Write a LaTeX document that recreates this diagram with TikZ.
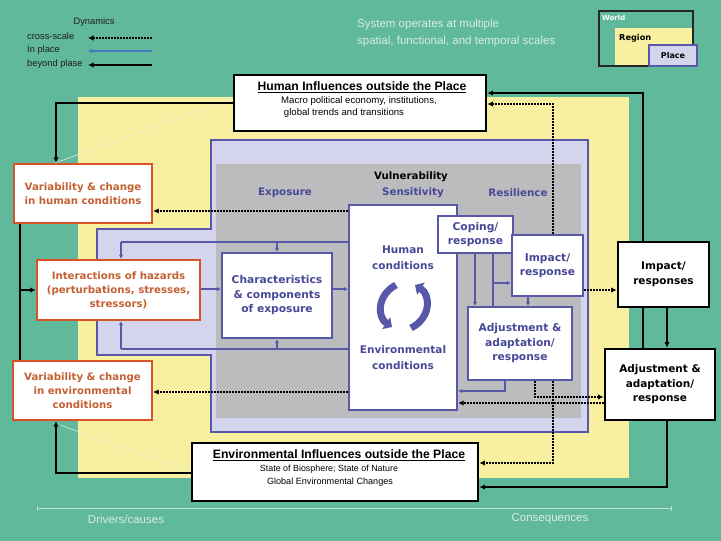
\documentclass[tikz,border=0pt]{standalone}
\usepackage{fontspec}
\setmainfont{DejaVu Sans}
\newfontfamily\lib{Liberation Sans}
\usetikzlibrary{arrows.meta}
\definecolor{teal1}{RGB}{97,185,155}
\definecolor{yel}{RGB}{248,240,160}
\definecolor{lav}{RGB}{212,212,236}
\definecolor{gry}{RGB}{188,188,190}
\definecolor{bluel}{RGB}{88,88,168}
\definecolor{bluet}{RGB}{72,72,152}
\definecolor{orng}{RGB}{214,84,40}
\definecolor{orngt}{RGB}{196,96,50}
\definecolor{pale}{RGB}{214,238,226}
\definecolor{dk}{RGB}{30,30,30}
\begin{document}
\begin{tikzpicture}[x=1pt,y=-1pt,
  box/.style={draw, line width=2.4pt, fill=white, inner sep=0pt, align=center},
  obox/.style={box, draw=orng, text=orngt, font=\bfseries\fontsize{10.2}{13.8}\selectfont},
  bbox/.style={box, draw=bluel, text=bluet, font=\bfseries\fontsize{10.7}{14.5}\selectfont},
  kbox/.style={box, draw=black, line width=2.8pt, text=black, font=\bfseries\fontsize{10.5}{14.5}\selectfont},
  btxt/.style={inner sep=0pt, align=center, text=bluet, font=\bfseries\fontsize{10.5}{16}\selectfont},
  htxt/.style={inner sep=0pt, text=bluet, font=\bfseries\fontsize{10.3}{12}\selectfont},
  lg/.style={inner sep=0pt, text=dk, font=\lib\fontsize{9.3}{10}\selectfont},
  ttl/.style={inner sep=0pt, font=\lib\bfseries\fontsize{12.2}{14}\selectfont},
  sub/.style={inner sep=0pt, font=\lib\fontsize{9.6}{11}\selectfont},
  pl/.style={inner sep=0pt, text=pale, font=\lib\fontsize{11.5}{13}\selectfont},
  arw/.style={-{Latex[length=5.5pt,width=5.5pt]}},
  sarw/.style={-{Latex[length=4pt,width=4.5pt]}},
  blk/.style={line width=2.2pt, draw=black},
  dots/.style={line width=2.6pt, draw=black, dash pattern=on 2pt off 1pt},
  bl/.style={line width=2.4pt, draw=bluel},
  cyc/.style={line width=7pt, draw=bluel, -{Triangle[length=7pt,width=14pt]}}
]
\useasboundingbox (0,0) rectangle (721,541);
% backgrounds
\fill[teal1] (0,0) rectangle (721,541);
\fill[yel] (78,97) rectangle (629,478);
\filldraw[fill=lav, draw=bluel, line width=2.2pt] (211,140) -- (588,140) -- (588,432) -- (211,432) -- (211,355) -- (97,355) -- (97,229) -- (211,229) -- cycle;
\fill[gry] (216,164) rectangle (581,418);
\draw[pale!70!yel, line width=0.6pt] (55,163) -- (234,98);
\draw[pale!70!yel, line width=0.6pt] (60,425) -- (192,472);

% legend
\node[lg] (dyn) at (94,22) {Dynamics};
\node[lg, anchor=west] (lgc) at (27,36) {cross-scale};
\node[lg, anchor=west] (lgi) at (27,50) {In place};
\node[lg, anchor=west] (lgb) at (27,64) {beyond plase};
\coordinate (l1s) at (152,38); \coordinate (l1e) at (88,38);
\coordinate (l2s) at (152,51); \coordinate (l2e) at (88,51);
\coordinate (l3s) at (152,65); \coordinate (l3e) at (88,65);
\draw[dots, arw] (l1s) -- (l1e);
\draw[line width=2pt, draw=bluel!80!cyan, sarw] (l2s) -- (l2e);
\draw[blk, arw] (l3s) -- (l3e);

\node[pl, anchor=west] (sys1) at (357,25) {System operates at multiple};
\node[pl, anchor=west] (sys2) at (357,42) {spatial, functional, and temporal scales};

% world/region/place legend
\fill[teal1] (599,11) rectangle (693,66);
\fill[yel] (615,28) rectangle (693,66);
\draw[line width=1.5pt, draw=black!85] (599,11) rectangle (693,66);
\node[draw=bluel, line width=1.5pt, fill=lav, minimum width=48pt, minimum height=21pt, inner sep=0pt, font=\bfseries\fontsize{8}{9}\selectfont] (placeb) at (673,55.5) {Place};
\node[inner sep=0pt, anchor=west, text=white, font=\bfseries\fontsize{7}{8}\selectfont] (worldt) at (602,18) {World};
\node[inner sep=0pt, anchor=west, font=\bfseries\fontsize{8.2}{9}\selectfont] (regiont) at (619,38) {Region};

% texts in vulnerability area
\node[inner sep=0pt, font=\bfseries\fontsize{10.2}{12}\selectfont] (vul) at (411,177) {Vulnerability};
\node[htxt] (expo) at (285,193) {Exposure};
\node[htxt] (sens) at (413,193) {Sensitivity};
\node[htxt] (resi) at (518,193) {Resilience};

% outer boxes
\node[kbox, minimum width=252pt, minimum height=56pt] (hum) at (360,103) {};
\node[ttl] (humt) at (362,87) {\underline{Human Influences outside the Place}};
\node[sub] (hums1) at (359,101) {Macro political economy, institutions,};
\node[sub] (hums2) at (344,113) {global trends and transitions};

\node[kbox, minimum width=286pt, minimum height=58pt] (env) at (335,472) {};
\node[ttl] (envt) at (339,455) {\underline{Environmental Influences outside the Place}};
\node[sub, font=\lib\fontsize{8.9}{10}\selectfont] (envs1) at (329,469) {State of Biosphere; State of Nature};
\node[sub, font=\lib\fontsize{9.1}{10}\selectfont] (envs2) at (330,482) {Global Environmental Changes};

\node[obox, minimum width=138pt, minimum height=59pt] (varh) at (83,193.5) {Variability \& change\\in human conditions};
\node[obox, minimum width=163pt, minimum height=60pt] (inter) at (118.5,290) {Interactions of hazards\\(perturbations, stresses,\\stressors)};
\node[obox, minimum width=139pt, minimum height=59pt] (vare) at (82.5,390.5) {Variability \& change\\in environmental\\conditions};

\node[bbox, minimum width=110pt, minimum height=85pt] (charx) at (277,295.5) {Characteristics\\\& components\\of exposure};
\node[bbox, minimum width=108pt, minimum height=205pt] (cond) at (403,307.5) {};
\node[btxt] (humc) at (403,258) {Human\\conditions};
\node[btxt] (envc) at (403,358) {Environmental\\conditions};
\node[bbox, minimum width=75pt, minimum height=37pt] (coping) at (475.5,234.5) {Coping/\\response};
\node[bbox, minimum width=71pt, minimum height=61pt] (impi) at (547.5,265.5) {Impact/\\response};
\node[bbox, minimum width=104pt, minimum height=73pt] (adji) at (520,343.5) {Adjustment \&\\adaptation/\\response};

\node[kbox, minimum width=91pt, minimum height=65pt] (impo) at (663.5,274.5) {Impact/\\responses};
\node[kbox, minimum width=110pt, minimum height=71pt] (adjo) at (660,384.5) {Adjustment \&\\adaptation/\\response};

% cycle arrows
\draw[cyc] (396,285) .. controls (377,295) and (377,317) .. (392,327);
\draw[cyc] (411,328) .. controls (431,318) and (431,295) .. (415,285);

% helper coordinates
\coordinate (x20) at (20,0);
\coordinate (x56) at (56,0);
\coordinate (x121) at (121,0);
\coordinate (x277) at (277,0);
\coordinate (x475) at (475,0);
\coordinate (x493) at (493,0);
\coordinate (x505) at (505,0);
\coordinate (x528) at (528,0);
\coordinate (x535) at (535,0);
\coordinate (x553) at (553,0);
\coordinate (x643) at (643,0);
\coordinate (x667) at (667,0);
\coordinate (y93) at (0,93);
\coordinate (y104) at (0,104);
\coordinate (y211) at (0,211);
\coordinate (y242) at (0,242);
\coordinate (y283) at (0,283);
\coordinate (y289) at (0,289);
\coordinate (y290) at (0,290);
\coordinate (y349) at (0,349);
\coordinate (y391) at (0,391);
\coordinate (y392) at (0,392);
\coordinate (y397) at (0,397);
\coordinate (y403) at (0,403);
\coordinate (y463) at (0,463);
\coordinate (y473) at (0,473);
\coordinate (y487) at (0,487);

% black (beyond place) connectors
\draw[blk, arw] (hum.west) -| (x56 |- varh.north);
\draw[blk] (x20 |- varh.south) -- (x20 |- vare.north);
\draw[blk, arw] (x20 |- inter.west) -- (inter.west);
\draw[blk, arw] (env.west |- y473) -| (x56 |- vare.south);
\draw[blk, arw] (x643 |- impo.north) |- (hum.east |- y93);
\draw[blk] (x643 |- impo.south) -- (x643 |- adjo.north);
\draw[blk, arw] (x667 |- impo.south) -- (x667 |- adjo.north);
\draw[blk, arw] (x667 |- adjo.south) |- (env.east |- y487);

% dotted (cross-scale) connectors
\draw[dots, arw] (cond.west |- y211) -- (varh.east |- y211);
\draw[dots, arw] (cond.west |- y392) -- (vare.east |- y392);
\draw[dots, arw] (adjo.west |- y403) -- (cond.east |- y403);
\draw[dots, arw] (impi.east |- y290) -- (impo.west |- y290);
\draw[dots, arw] (x535 |- adji.south) |- (adjo.west |- y397);
\draw[dots, arw] (x553 |- adji.south) |- (env.east |- y463);
\draw[dots, arw] (x553 |- impi.north) |- (hum.east |- y104);

% blue (in place) connectors
\draw[bl, sarw] (inter.east |- y289) -- (charx.west |- y289);
\draw[bl, sarw] (charx.east |- y289) -- (cond.west |- y289);
\draw[bl] (cond.west |- y242) -- (x121 |- y242);
\draw[bl, sarw] (x121 |- y242) -- (x121 |- inter.north);
\draw[bl, sarw] (x277 |- y242) -- (x277 |- charx.north);
\draw[bl] (cond.west |- y349) -- (x121 |- y349);
\draw[bl, sarw] (x121 |- y349) -- (x121 |- inter.south);
\draw[bl, sarw] (x277 |- y349) -- (x277 |- charx.south);
\draw[bl, sarw] (x475 |- coping.south) -- (x475 |- adji.north);
\draw[bl] (x493 |- coping.south) -- (x493 |- adji.north);
\draw[bl, sarw] (x493 |- y283) -- (impi.west |- y283);
\draw[bl, sarw] (x528 |- impi.south) -- (x528 |- adji.north);
\draw[bl, sarw] (x505 |- adji.south) |- (cond.east |- y391);

% bottom axis
\coordinate (ax1) at (37,508);
\coordinate (ax2) at (672,508);
\draw[pale!80!teal1, line width=0.6pt, {Bar[width=5pt]}-{Bar[width=5pt]}] (ax1) -- (ax2);
\node[pl] (drv) at (126,519) {Drivers/causes};
\node[pl] (cons) at (550,519) {Consequences};
\end{tikzpicture}
\end{document}
